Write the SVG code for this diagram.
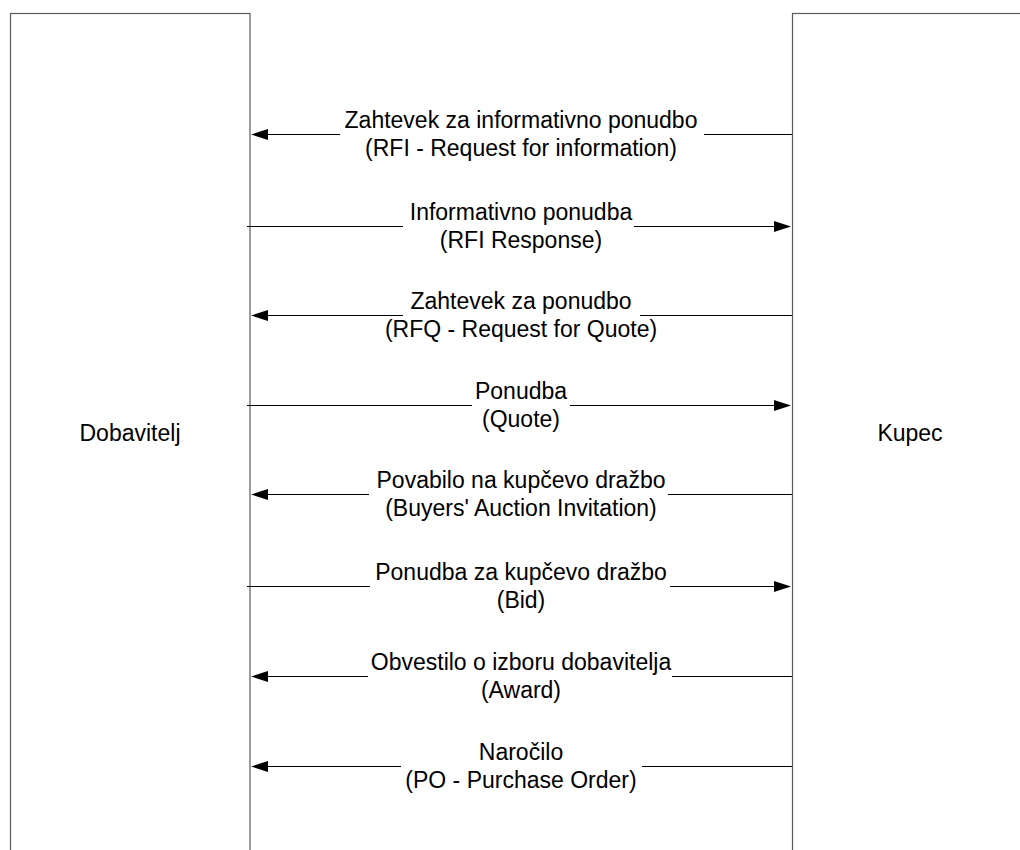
<svg xmlns="http://www.w3.org/2000/svg" width="1020" height="850" viewBox="0 0 1020 850">
<style>
.box{fill:#fff;stroke:#5a5a5a;stroke-width:1.2}
.ln{stroke:#000;stroke-width:1;fill:none}
.hd{fill:#000}
text{font-family:"Liberation Sans",Arial,sans-serif;font-size:23px;fill:#000;text-anchor:middle}
</style>
<rect width="1020" height="850" fill="#fff"/>
<g id="node-dobavitelj">
<rect class="box" x="10.5" y="13.5" width="239.5" height="850"/>
<text x="130" y="441">Dobavitelj</text>
</g>
<g id="node-kupec">
<rect class="box" x="792.5" y="13.5" width="240" height="850"/>
<text x="910" y="441">Kupec</text>
</g>
<g id="connectors">
<g id="msg1">
<path class="ln" d="M268 134.5H340M704 134.5H792"/>
<polygon class="hd" points="251,134.5 268,129 268,140"/>
<text x="521" y="128">Zahtevek za informativno ponudbo</text>
<text x="521" y="156">(RFI - Request for information)</text>
</g>
<g id="msg2">
<path class="ln" d="M247 226.5H403M634 226.5H774"/>
<polygon class="hd" points="791,226.5 774,221 774,232"/>
<text x="521" y="220">Informativno ponudba</text>
<text x="521" y="248">(RFI Response)</text>
</g>
<g id="msg3">
<path class="ln" d="M268 315.5H403M640 315.5H792"/>
<polygon class="hd" points="251,315.5 268,310 268,321"/>
<text x="521" y="309">Zahtevek za ponudbo</text>
<text x="521" y="337">(RFQ - Request for Quote)</text>
</g>
<g id="msg4">
<path class="ln" d="M247 405.5H472M570 405.5H774"/>
<polygon class="hd" points="791,405.5 774,400 774,411"/>
<text x="521" y="399">Ponudba</text>
<text x="521" y="427">(Quote)</text>
</g>
<g id="msg5">
<path class="ln" d="M268 494.5H369M668 494.5H792"/>
<polygon class="hd" points="251,494.5 268,489 268,500"/>
<text x="521" y="488">Povabilo na kupčevo dražbo</text>
<text x="521" y="516">(Buyers' Auction Invitation)</text>
</g>
<g id="msg6">
<path class="ln" d="M247 586.5H370M670 586.5H774"/>
<polygon class="hd" points="791,586.5 774,581 774,592"/>
<text x="521" y="580">Ponudba za kupčevo dražbo</text>
<text x="521" y="608">(Bid)</text>
</g>
<g id="msg7">
<path class="ln" d="M268 676.5H368M672 676.5H792"/>
<polygon class="hd" points="251,676.5 268,671 268,682"/>
<text x="521" y="670">Obvestilo o izboru dobavitelja</text>
<text x="521" y="698">(Award)</text>
</g>
<g id="msg8">
<path class="ln" d="M268 766.5H401M642 766.5H792"/>
<polygon class="hd" points="251,766.5 268,761 268,772"/>
<text x="521" y="760">Naročilo</text>
<text x="521" y="788">(PO - Purchase Order)</text>
</g>
</g>
</svg>
